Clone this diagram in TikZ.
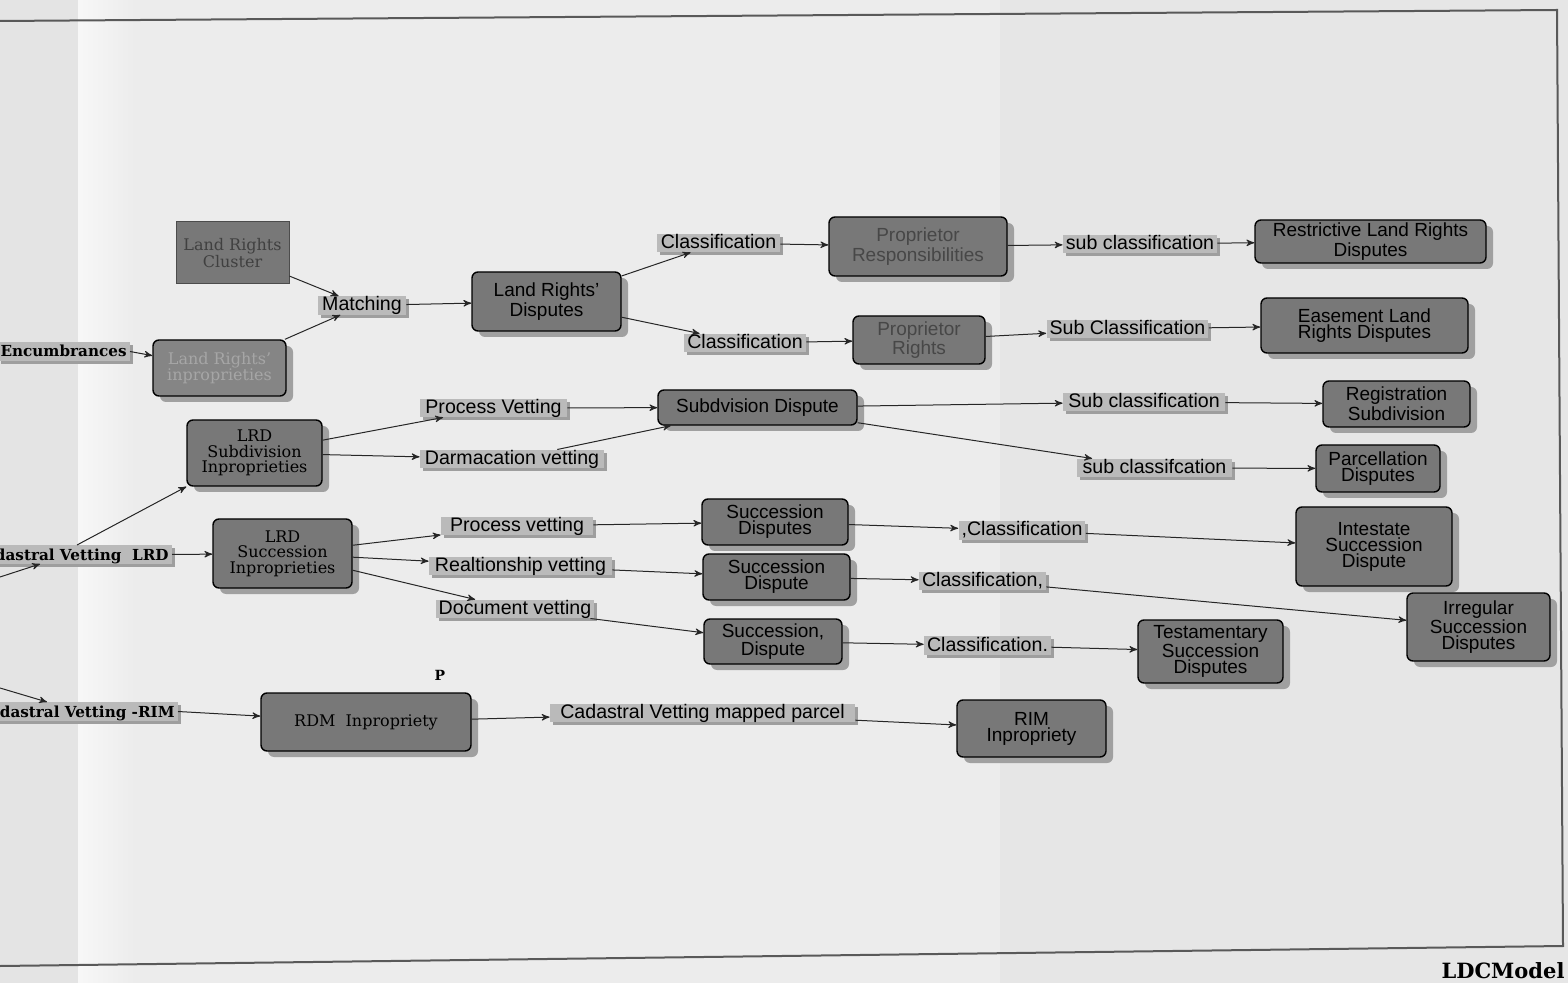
\documentclass[tikz,border=0pt]{standalone}
\usepackage{fontspec}
\setmainfont{DejaVu Serif}
\setsansfont{Liberation Sans}
\usepackage{tikz}
\usetikzlibrary{arrows,shapes,shadows,calc}
\definecolor{paper}{RGB}{236,236,236}
\definecolor{paperdark}{RGB}{228,228,228}
\definecolor{paperright}{RGB}{230,230,230}
\definecolor{boxgray}{RGB}{120,120,120}
\definecolor{boxshade}{RGB}{160,160,160}
\definecolor{taggray}{RGB}{186,186,186}
\definecolor{tagshade}{RGB}{158,158,158}
\tikzstyle{flow} = [->,>=stealth',black!85,line width=0.5pt]
\tikzstyle{frame} = [line width=1pt,black!65]

\begin{document}
\begin{tikzpicture}[x=0.5pt,y=-0.5pt]
    \tikzstyle{plain}=[rectangle,draw=black,line width=0.7pt,fill=boxgray,align=center,inner sep=1pt,font=\sffamily\fontsize{9.5}{8}\selectfont]
    \tikzstyle{dispute}=[plain,rounded corners=3pt,drop shadow={shadow xshift=3.5pt,shadow yshift=-3pt,fill=boxshade,opacity=1}]
    \tikzstyle{oldbox}=[dispute,font=\fontsize{8}{7.8}\selectfont]
    \tikzstyle{tag}=[rectangle,fill=taggray,inner xsep=1.5pt,inner ysep=0.3pt,text height=7pt,text depth=1.5pt,font=\sffamily\fontsize{9.8}{10}\selectfont,drop shadow={shadow xshift=1.5pt,shadow yshift=-1.5pt,fill=tagshade,opacity=1}]
    \tikzstyle{oldtag}=[tag,font=\bfseries\fontsize{7.6}{8}\selectfont]

    \useasboundingbox (0,0) rectangle (1568,983);
    % paper and fold shades
    \fill[paper] (0,0) rectangle (1568,983);
    \fill[paperdark] (0,0) rectangle (78,983);
    \shade[left color=white!60!paper,right color=paper] (78,0) rectangle (135,983);
    \fill[paperright] (1000,0) rectangle (1568,983);
    \draw[frame] (0,21) -- (1557,10) -- (1563,946) -- (0,966);

    \begin{scope}
    % land rights
    \node[plain,draw=black!70,line width=0.5pt,font=\fontsize{8}{7.8}\selectfont,text=black!75,minimum width=56.5pt,minimum height=31pt] (lrc) at (232.5,253) {Land Rights\\Cluster};
    \node[oldbox,fill=boxgray!90!white,text=black!35,minimum width=66.5pt,minimum height=28pt] (lri) at (219.5,368) {Land Rights'\\inproprieties};
    \node[oldtag,anchor=east] (encum) at (130,351.5) {Encumbrances};
    \node[tag,minimum width=44pt] (match) at (362,305.5) {Matching};
    \node[dispute,minimum width=74.5pt,minimum height=29.5pt] (lrd) at (546.5,301.5) {Land Rights'\\Disputes};
    \node[tag,minimum width=61.5pt] (cls1) at (718.5,243) {Classification};
    \node[dispute,text=black!72,minimum width=89pt,minimum height=29.5pt] (presp) at (918,246.5) {Proprietor\\Responsibilities};
    \node[tag,minimum width=75pt] (sub1) at (1140,244) {sub classification};
    \node[dispute,minimum width=115.5pt,minimum height=21.5pt] (restr) at (1370.5,241.5) {Restrictive Land Rights\\Disputes};
    \node[tag,minimum width=61pt] (cls2) at (745,343) {Classification};
    \node[dispute,text=black!72,minimum width=66pt,minimum height=24pt] (prights) at (919,340) {Proprietor\\Rights};
    \node[tag,minimum width=79.5pt] (sub2) at (1127.5,329) {Sub Classification};
    \node[dispute,minimum width=103.5pt,minimum height=27.5pt] (ease) at (1364.5,325.5) {Easement Land\\Rights Disputes};

    % subdivision
    \node[oldtag,anchor=east] (cvlrd) at (172,554.5) {Cadastral Vetting~ LRD};
    \node[oldbox,minimum width=67.5pt,minimum height=33pt] (lrdsub) at (254.5,453) {LRD\\Subdivision\\Inproprieties};
    \node[tag,minimum width=73.5pt] (pv1) at (493.5,408) {Process Vetting};
    \node[tag,minimum width=92pt] (darm) at (512,459) {Darmacation vetting};
    \node[dispute,minimum width=99.5pt,minimum height=17.5pt] (subd) at (757.5,407.5) {Subdvision Dispute};
    \node[tag,minimum width=81pt] (sub3) at (1144,402) {Sub classification};
    \node[dispute,minimum width=73.5pt,minimum height=23pt] (regis) at (1396.5,404) {Registration\\Subdivision};
    \node[tag,minimum width=77.5pt] (sub4) at (1154.5,468) {sub classifcation};
    \node[dispute,minimum width=62pt,minimum height=23.5pt] (parcel) at (1378,468.5) {Parcellation\\Disputes};

    % succession
    \node[oldbox,minimum width=69.5pt,minimum height=34.5pt] (lrdsucc) at (282.5,553.5) {LRD\\Succession\\Inproprieties};
    \node[tag,minimum width=76pt] (pv2) at (517,526) {Process vetting};
    \node[tag,minimum width=91.5pt] (rel) at (520.5,566) {Realtionship vetting};
    \node[tag,minimum width=78pt] (doc) at (515,609) {Document vetting};
    \node[dispute,minimum width=73pt,minimum height=23pt] (sd1) at (775,522) {Succession\\Disputes};
    \node[dispute,minimum width=73.5pt,minimum height=23pt] (sd2) at (776.5,577) {Succession\\Dispute};
    \node[dispute,minimum width=69pt,minimum height=22.5pt] (sd3) at (773,641.5) {Succession,\\Dispute};
    \node[tag,minimum width=61pt] (cls3) at (1022,530.5) {,Classification};
    \node[tag,minimum width=63.5pt] (cls4) at (982.5,581) {Classification,};
    \node[tag,minimum width=62.5pt] (cls5) at (987.5,645.5) {Classification.};
    \node[dispute,minimum width=78pt,minimum height=39.5pt] (intest) at (1374,546.5) {Intestate\\Succession\\Dispute};
    \node[dispute,minimum width=71.5pt,minimum height=34pt] (irreg) at (1478.5,627) {Irregular\\Succession\\Disputes};
    \node[dispute,minimum width=72.5pt,minimum height=31.5pt] (testam) at (1210.5,651.5) {Testamentary\\Succession\\Disputes};

    % rim
    \node[font=\bfseries\fontsize{7}{7}\selectfont] (pmark) at (440,675) {P};
    \node[oldtag,anchor=east] (cvrim) at (178,711.5) {Cadastral Vetting -RIM};
    \node[oldbox,minimum width=105pt,minimum height=29pt] (rdm) at (366,722) {RDM~ Inpropriety};
    \node[tag,minimum width=152.5pt] (cvmp) at (702.5,713) {Cadastral Vetting mapped parcel};
    \node[dispute,minimum width=74.5pt,minimum height=28.5pt] (rim) at (1031.5,728.5) {RIM\\Inpropriety};
    \node[font=\bfseries\fontsize{10.5}{10}\selectfont] (ldc) at (1503,971) {LDCModel};
    \end{scope}

    \coordinate (lrdin) at (0,577);
    \coordinate (rimin) at (0,688);

    \draw[flow] (lrc) -- (match);
    \draw[flow] (lri) -- (match);
    \draw[flow] (encum.east) -- (lri);
    \draw[flow] (match) -- (lrd);
    \draw[flow] (lrd) -- (cls1);
    \draw[flow] (cls1) -- (presp);
    \draw[flow] (presp) -- (sub1);
    \draw[flow] (sub1) -- (restr);
    \draw[flow] (lrd) -- (cls2);
    \draw[flow] (cls2) -- (prights);
    \draw[flow] (prights) -- (sub2);
    \draw[flow] (sub2) -- (ease);

    \draw[flow] (lrdin) -- ($(cvlrd.south east)+(-132,0)$);
    \draw[flow] ($(cvlrd.north east)+(-95,0)$) -- (lrdsub.south west);
    \draw[flow] (cvlrd.east) -- (lrdsucc);
    \draw[flow] (lrdsub) -- (pv1);
    \draw[flow] (lrdsub) -- (darm);
    \draw[flow] (pv1) -- (subd);
    \draw[flow] (darm) -- (subd);
    \draw[flow] (subd) -- (sub3);
    \draw[flow] (sub3) -- (regis);
    \draw[flow] (subd) -- (sub4);
    \draw[flow] (sub4) -- (parcel);

    \draw[flow] (lrdsucc) -- (pv2);
    \draw[flow] (lrdsucc) -- (rel);
    \draw[flow] (lrdsucc) -- (doc);
    \draw[flow] (pv2) -- (sd1);
    \draw[flow] (rel) -- (sd2);
    \draw[flow] (doc) -- (sd3);
    \draw[flow] (sd1) -- (cls3);
    \draw[flow] (cls3) -- (intest);
    \draw[flow] (sd2) -- (cls4);
    \draw[flow] (cls4) -- (irreg);
    \draw[flow] (sd3) -- (cls5);
    \draw[flow] (cls5) -- (testam);

    \draw[flow] (rimin) -- ($(cvrim.north east)+(-131,0)$);
    \draw[flow] (cvrim.east) -- (rdm);
    \draw[flow] (rdm) -- (cvmp);
    \draw[flow] (cvmp) -- (rim);
\end{tikzpicture}
\end{document}
